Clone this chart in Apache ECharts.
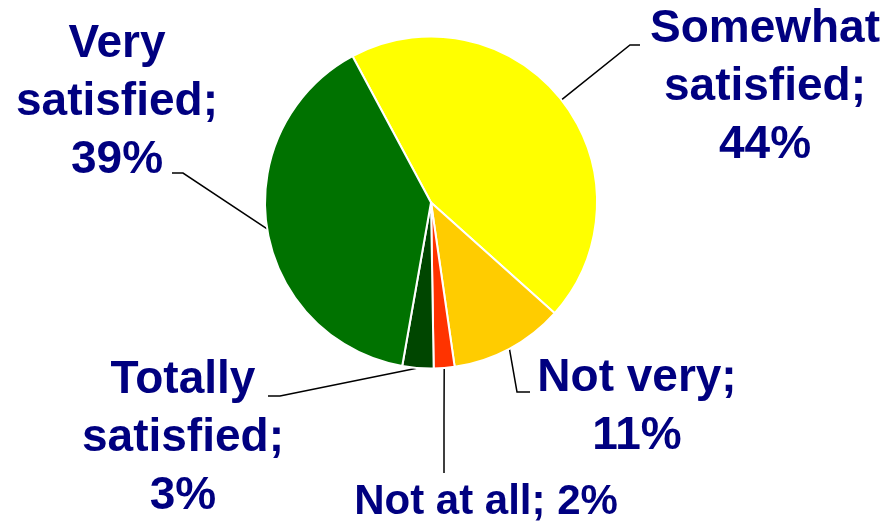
<!DOCTYPE html>
<html>
<head>
<meta charset="utf-8">
<title>Satisfaction</title>
<script src="https://cdn.jsdelivr.net/npm/echarts@6/dist/echarts.min.js"></script>
<style>
  html, body { margin: 0; padding: 0; background: #ffffff; }
  #chart { width: 890px; height: 526px; }
</style>
</head>
<body>
<div id="chart"></div>
<script>
// Satisfaction shares, clockwise from the top
const categories = ['Somewhat satisfied', 'Not very', 'Not at all', 'Totally satisfied', 'Very satisfied'];
const shares = [44, 11, 2, 3, 39];
const sliceColors = ['#FFFF00', '#FFCC00', '#FF3300', '#004600', '#007200'];

// Where each label sits and how its leader line bends
const labelAnchors = [
  { x: 765, y: 87,  bend: [630, 45],  end: [640, 45] },
  { x: 637, y: 407, bend: [517, 392], end: [530, 392] },
  { x: 486, y: 502, bend: [444, 420], end: [444, 473] },
  { x: 183, y: 438, bend: [280, 396], end: [268, 396] },
  { x: 117, y: 102, bend: [183, 173], end: [172, 173] }
];

const center = [431, 202.5];
const radius = 166;
const startAngle = 118.2;

const chart = echarts.init(document.getElementById('chart'), null, { renderer: 'canvas' });

function labelText(p) {
  const name = p.name.replace(' satisfied', '\nsatisfied');
  const sep = p.name === 'Not at all' ? ' ' : '\n';
  return name + ';' + sep + p.value + '%';
}

const total = shares.reduce((a, b) => a + b, 0);
function midPoint(i) {
  let before = 0;
  for (let k = 0; k < i; k++) before += shares[k];
  const mid = (startAngle - (before + shares[i] / 2) / total * 360) * Math.PI / 180;
  return [center[0] + radius * Math.cos(mid), center[1] - radius * Math.sin(mid)];
}

chart.setOption({
  backgroundColor: '#ffffff',
  animation: false,
  series: [{
    type: 'pie',
    center: center,
    radius: radius,
    startAngle: startAngle,
    clockwise: true,
    avoidLabelOverlap: false,
    itemStyle: { borderColor: '#ffffff', borderWidth: 2 },
    label: {
      show: true,
      formatter: labelText,
      color: '#000080',
      fontFamily: '"Liberation Sans", Arial, sans-serif',
      fontWeight: 'bold',
      fontSize: 46,
      lineHeight: 58,
      align: 'center'
    },
    labelLine: {
      show: true,
      length: 20,
      length2: 10,
      lineStyle: { color: '#000000', width: 1.5 }
    },
    labelLayout: function (params) {
      const a = labelAnchors[params.dataIndex];
      const pts = params.labelLinePoints;
      const start = pts && pts[0] ? pts[0] : midPoint(params.dataIndex);
      return {
        x: a.x,
        y: a.y,
        align: 'center',
        verticalAlign: 'middle',
        labelLinePoints: [start, a.bend, a.end]
      };
    },
    data: categories.map((name, i) => {
      const item = { name: name, value: shares[i], itemStyle: { color: sliceColors[i] } };
      if (name === 'Not at all') item.label = { fontSize: 42, lineHeight: 50 };
      return item;
    })
  }]
});
</script>
</body>
</html>
